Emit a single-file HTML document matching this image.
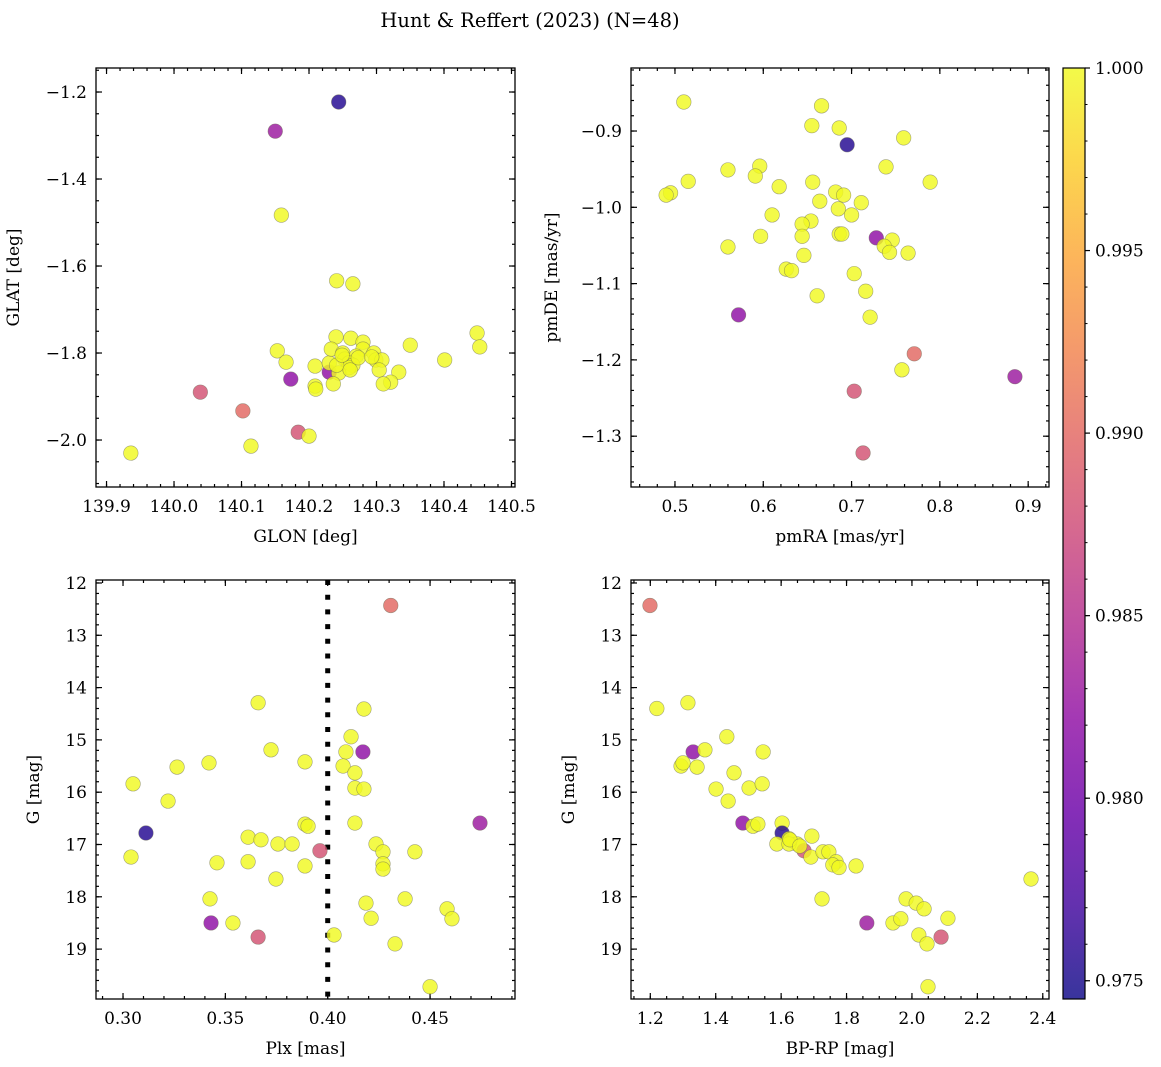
<!DOCTYPE html>
<html><head><meta charset="utf-8"><style>
body{margin:0;background:#fff}
svg{display:block;font-family:"DejaVu Serif","Liberation Serif",serif}
</style></head><body>
<svg id="fig" width="1161" height="1067" viewBox="0 0 1161 1067" xmlns="http://www.w3.org/2000/svg">
<text x="530" y="27" font-size="19.5" text-anchor="middle">Hunt &amp; Reffert (2023) (N=48)</text>
</svg>
<script>
// Panel 1: GLON vs GLAT
const glon=[140.244,140.150,140.159,140.241,140.265,139.936,140.153,140.166,140.173,140.039,140.102,140.184,140.200,140.114,140.209,140.209,140.210,140.230,140.230,140.240,140.233,140.262,140.280,140.280,140.250,140.253,140.270,140.259,140.265,140.259,140.244,140.236,140.296,140.299,140.308,140.304,140.333,140.321,140.310,140.350,140.401,140.449,140.453,140.241,140.261,140.249,140.273,140.293];
const glat=[-1.223,-1.290,-1.483,-1.634,-1.641,-2.030,-1.795,-1.821,-1.860,-1.890,-1.933,-1.982,-1.991,-2.014,-1.830,-1.876,-1.883,-1.844,-1.823,-1.763,-1.791,-1.766,-1.775,-1.791,-1.800,-1.814,-1.807,-1.823,-1.828,-1.834,-1.846,-1.871,-1.800,-1.816,-1.816,-1.839,-1.844,-1.867,-1.871,-1.782,-1.816,-1.754,-1.786,-1.828,-1.839,-1.805,-1.811,-1.809];
const prob1=[0.9755,0.983,1,1,1,1,1,1,0.982,0.988,0.990,0.988,1,1,1,1,1,0.982,1,1,1,1,1,1,1,1,1,1,1,1,1,1,1,1,1,1,1,1,1,1,1,1,1,1,1,1,1,1];
// Panel 2: pmRA vs pmDE
const pmra=[0.510,0.666,0.655,0.686,0.695,0.759,0.739,0.560,0.596,0.591,0.515,0.495,0.490,0.618,0.656,0.789,0.682,0.691,0.664,0.711,0.685,0.700,0.610,0.654,0.644,0.597,0.644,0.686,0.689,0.728,0.746,0.737,0.743,0.764,0.560,0.646,0.626,0.632,0.703,0.716,0.661,0.721,0.572,0.771,0.757,0.885,0.703,0.713];
const pmde=[-0.862,-0.867,-0.893,-0.896,-0.918,-0.909,-0.947,-0.951,-0.946,-0.959,-0.966,-0.981,-0.984,-0.973,-0.967,-0.967,-0.980,-0.984,-0.992,-0.994,-1.002,-1.010,-1.010,-1.018,-1.022,-1.038,-1.038,-1.035,-1.035,-1.040,-1.043,-1.051,-1.059,-1.060,-1.052,-1.063,-1.081,-1.083,-1.087,-1.110,-1.116,-1.144,-1.141,-1.192,-1.213,-1.222,-1.241,-1.322];
const prob2=[1,1,1,1,0.9755,1,1,1,1,1,1,1,1,1,1,1,1,1,1,1,1,1,1,1,1,1,1,1,1,0.982,1,1,1,1,1,1,1,1,1,1,1,1,0.982,0.990,1,0.983,0.988,0.988];
// Panel 3: Plx vs G
const plx=[0.4308,0.3660,0.4177,0.4114,0.4089,0.4172,0.3723,0.3889,0.3420,0.3264,0.4075,0.4133,0.3049,0.4133,0.4177,0.3220,0.3889,0.3904,0.4133,0.4744,0.3112,0.3611,0.3674,0.3757,0.3826,0.3962,0.4236,0.4270,0.4426,0.3039,0.3459,0.3611,0.3889,0.4270,0.4270,0.3747,0.3425,0.4187,0.4378,0.4583,0.4607,0.4212,0.3430,0.3537,0.3660,0.4031,0.4329,0.4500];
const gmag3=[12.43,14.29,14.41,14.94,15.23,15.23,15.19,15.42,15.44,15.52,15.50,15.63,15.84,15.92,15.94,16.17,16.61,16.65,16.59,16.59,16.78,16.86,16.91,16.99,16.99,17.12,16.99,17.14,17.14,17.24,17.35,17.33,17.41,17.37,17.47,17.66,18.04,18.12,18.04,18.23,18.42,18.41,18.50,18.50,18.77,18.73,18.90,19.72];
const prob3=[0.990,1,1,1,1,0.982,1,1,1,1,1,1,1,1,1,1,1,1,1,0.983,0.9755,1,1,1,1,0.988,1,1,1,1,1,1,1,1,1,1,1,1,1,1,1,1,0.982,1,0.988,1,1,1];
// Panel 4: BP-RP vs G
const bprp=[1.199,1.220,1.315,1.434,1.331,1.367,1.545,1.294,1.300,1.343,1.456,1.401,1.502,1.542,1.438,1.483,1.514,1.529,1.603,1.603,1.624,1.649,1.587,1.624,1.694,1.670,1.691,1.728,1.746,1.768,1.758,1.777,1.829,2.364,1.725,1.982,2.013,2.037,2.110,1.862,1.942,1.966,2.021,2.089,2.046,2.049,1.627,1.657];
const gmag4=[12.43,14.40,14.29,14.94,15.23,15.19,15.23,15.50,15.44,15.52,15.63,15.94,15.92,15.84,16.17,16.59,16.65,16.61,16.59,16.78,16.89,16.99,16.99,16.99,16.84,17.12,17.24,17.14,17.14,17.33,17.39,17.44,17.41,17.66,18.04,18.04,18.12,18.23,18.41,18.50,18.50,18.42,18.73,18.77,18.90,19.72,16.91,17.03];
const prob4=[0.990,1,1,1,0.982,1,1,1,1,1,1,1,1,1,1,0.982,1,1,1,0.9755,1,1,1,1,1,0.988,1,1,1,1,1,1,1,1,1,1,1,1,1,0.983,1,1,1,0.988,1,1,1,1];
const cbTicks=[0.975,0.980,0.985,0.990,0.995,1.000];
const cbLabels=["0.975","0.980","0.985","0.990","0.995","1.000"];

const NS="http://www.w3.org/2000/svg";
const svg=document.getElementById('fig');
function mk(tag,attrs,parent){const e=document.createElementNS(NS,tag);for(const k in attrs)e.setAttribute(k,attrs[k]);(parent||svg).appendChild(e);return e;}
const VMIN=0.9745,VMAX=1.0;
const stops=["#0d0887","#41049d","#6a00a8","#8f0da4","#b12a90","#cc4778","#e16462","#f2844b","#fca636","#fcce25","#f0f921"];
function hex(h){return [1,3,5].map(i=>parseInt(h.substr(i,2),16));}
function plasma(v){let t=(v-VMIN)/(VMAX-VMIN);t=Math.max(0,Math.min(1,t));const p=t*10,i=Math.min(9,Math.floor(p)),f=p-i;const a=hex(stops[i]),b=hex(stops[i+1]);return 'rgb('+a.map((c,k)=>Math.round(c+(b[k]-c)*f)).join(',')+')';}
function fmt(v,d){return v.toFixed(d).replace('-','\u2212');}
const FS=17;

function panel(o){
  const {name,x0,x1,y0,y1,xmin,xmax,ymin,ymax,inv}=o;
  const g=mk('g',{});
  
  
  const sx=v=>x0+(v-xmin)/(xmax-xmin)*(x1-x0);
  const sy=inv?(v=>y0+(v-ymin)/(ymax-ymin)*(y1-y0)):(v=>y1-(v-ymin)/(ymax-ymin)*(y1-y0));
  const eps=1e-9;
  function ticksX(step,len,labels){
    for(let k=Math.ceil(xmin/step-eps);k*step<=xmax+eps;k++){const v=k*step,x=sx(v);
      mk('line',{x1:x,y1:y1,x2:x,y2:y1-len,stroke:'#000','stroke-width':1.2},g);
      mk('line',{x1:x,y1:y0,x2:x,y2:y0+len,stroke:'#000','stroke-width':1.2},g);
      if(labels){const t=mk('text',{x:x,y:y1+25,'font-size':FS,'text-anchor':'middle'},g);t.textContent=fmt(v,o.xd);
        
        }
    }}
  function ticksY(step,len,labels){
    for(let k=Math.ceil(ymin/step-eps);k*step<=ymax+eps;k++){const v=k*step,y=sy(v);
      mk('line',{x1:x0,y1:y,x2:x0+len,y2:y,stroke:'#000','stroke-width':1.2},g);
      mk('line',{x1:x1,y1:y,x2:x1-len,y2:y,stroke:'#000','stroke-width':1.2},g);
      if(labels){const t=mk('text',{x:x0-9,y:y+6,'font-size':FS,'text-anchor':'end'},g);t.textContent=fmt(v,o.yd);
        
        }
    }}
  ticksX(o.xmin_step,3,false);ticksX(o.xmaj,6,true);
  ticksY(o.ymin_step,3,false);ticksY(o.ymaj,6,true);
  if(o.vline!==undefined){const l=mk('line',{x1:sx(o.vline),y1:y0,x2:sx(o.vline),y2:y1,stroke:'#000','stroke-width':5,'stroke-dasharray':'5 9.7'},g);
    
    }
  for(let i=0;i<o.xs.length;i++){
    const c=mk('circle',{cx:sx(o.xs[i]),cy:sy(o.ys[i]),r:7.3,fill:plasma(o.ps[i]),'fill-opacity':0.82,stroke:'#6b6b55','stroke-opacity':0.6,'stroke-width':0.6},g);
    
    
  }
  const fr=mk('rect',{x:x0,y:y0,width:x1-x0,height:y1-y0,fill:'none',stroke:'#000','stroke-width':1.3},g);
  
  
  const xl=mk('text',{x:(x0+x1)/2,y:y1+55,'font-size':FS,'text-anchor':'middle'},g);xl.textContent=o.xlab;
  
  
  const cx=x0-o.ylabOff,cy=(y0+y1)/2;
  const yl=mk('text',{x:cx,y:cy,'font-size':FS,'text-anchor':'middle',transform:'rotate(-90 '+cx+' '+cy+')'},g);yl.textContent=o.ylab;
  
  
}
panel({name:'glon-glat',x0:96,x1:515,y0:68,y1:487,xmin:139.8844,xmax:140.5052,ymin:-2.1080,ymax:-1.1448,xmaj:0.1,xmin_step:0.02,ymaj:0.2,ymin_step:0.05,xd:1,yd:1,xs:glon,ys:glat,ps:prob1,xlab:'GLON [deg]',ylab:'GLAT [deg]',ylabOff:77});
panel({name:'pm',x0:631,x1:1049,y0:68,y1:487,xmin:0.4502,xmax:0.9236,ymin:-1.3666,ymax:-0.8174,xmaj:0.1,xmin_step:0.02,ymaj:0.1,ymin_step:0.02,xd:1,yd:1,xs:pmra,ys:pmde,ps:prob2,xlab:'pmRA [mas/yr]',ylab:'pmDE [mas/yr]',ylabOff:74});
panel({name:'plx-g',x0:96,x1:515,y0:580,y1:999,xmin:0.2868,xmax:0.4915,ymin:11.943,ymax:19.954,inv:true,xmaj:0.05,xmin_step:0.01,ymaj:1,ymin_step:0.2,xd:2,yd:0,xs:plx,ys:gmag3,ps:prob3,xlab:'Plx [mas]',ylab:'G [mag]',ylabOff:57,vline:0.40});
panel({name:'cmd',x0:631,x1:1049,y0:580,y1:999,xmin:1.141,xmax:2.419,ymin:11.943,ymax:19.954,inv:true,xmaj:0.2,xmin_step:0.05,ymaj:1,ymin_step:0.2,xd:1,yd:0,xs:bprp,ys:gmag4,ps:prob4,xlab:'BP-RP [mag]',ylab:'G [mag]',ylabOff:57});

const cb=mk('g',{});


const defs=mk('defs',{},cb);
const lg=mk('linearGradient',{id:'pl',x1:0,y1:1,x2:0,y2:0},defs);
stops.forEach((s,i)=>mk('stop',{offset:i/10,'stop-color':s,'stop-opacity':0.82},lg));
const CB0=68,CB1=999,CX0=1063,CX1=1085;
mk('rect',{x:CX0,y:CB0,width:CX1-CX0,height:CB1-CB0,fill:'url(#pl)'},cb);
const cy=v=>CB1-(v-VMIN)/(VMAX-VMIN)*(CB1-CB0);
for(let k=Math.ceil(VMIN/0.001-1e-6);k*0.001<=VMAX+1e-9;k++){const y=cy(k*0.001);mk('line',{x1:CX1,y1:y,x2:CX1+2.5,y2:y,stroke:'#000','stroke-width':1},cb);}
cbTicks.forEach((v,i)=>{const y=cy(v);mk('line',{x1:CX1,y1:y,x2:CX1+5,y2:y,stroke:'#000','stroke-width':1.2},cb);
  const t=mk('text',{x:CX1+10,y:y+6,'font-size':FS},cb);t.textContent=cbLabels[i];
  
  });
mk('rect',{x:CX0,y:CB0,width:CX1-CX0,height:CB1-CB0,fill:'none',stroke:'#000','stroke-width':1.2},cb);
</script>
</body></html>
